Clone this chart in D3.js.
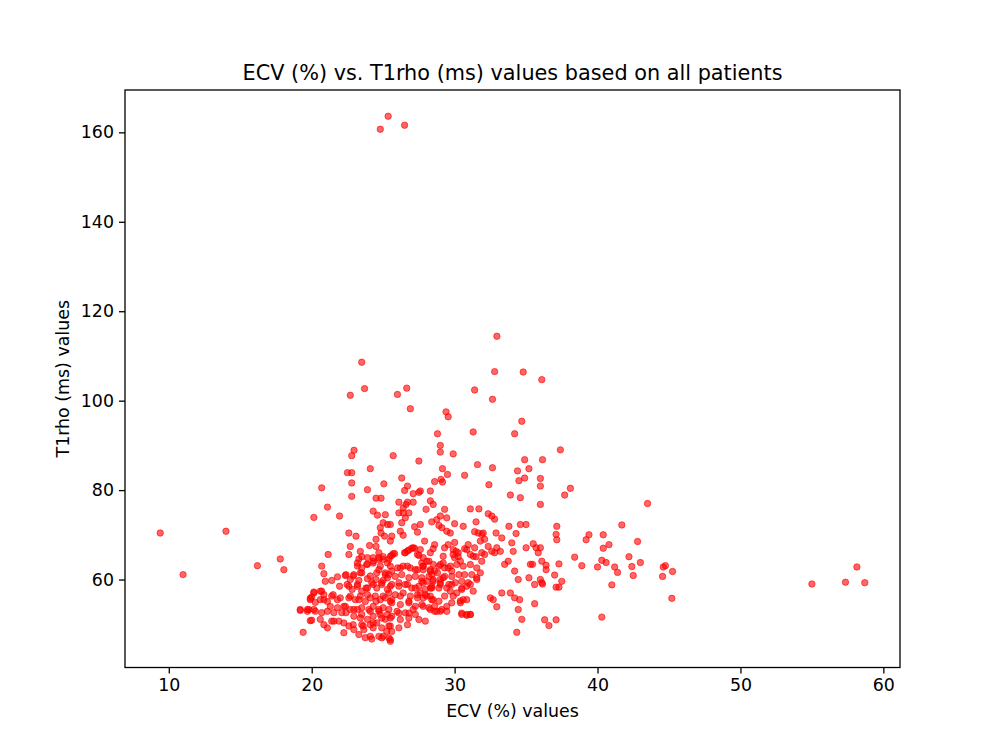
<!DOCTYPE html>
<html>

<head>
    <meta charset="utf-8">
    <title>ECV vs T1rho</title>
    <style>
    body {
        margin: 0;
        background: #fff;
    }

    svg text {
        font-family: "DejaVu Sans", sans-serif;
        fill: #000;
    }

    .tick line {
        stroke: #000;
        stroke-width: 1.3px;
    }
    </style>
</head>

<body>
    <script src='https://d3js.org/d3.v7.min.js'></script>
    <script>
    // chart texts and ticks
    var chartTitle = "ECV (%) vs. T1rho (ms) values based on all patients";
    var xLabel = "ECV (%) values";
    var yLabel = "T1rho (ms) values";
    var xTicks = [10, 20, 30, 40, 50, 60];
    var yTicks = [60, 80, 100, 120, 140, 160];

    // [ECV %, T1rho ms] per patient
    var points = [
        // far left
        [9.4, 70.4], [11.0, 61.1], [14.0, 70.8], [16.2, 63.1], [17.8, 64.6], [18.05, 62.2],
        [19.2, 53.1], [19.7, 53.3], [19.4, 48.2], [19.9, 55.8], [19.9, 50.8],
        // right side
        [37.4, 89.0], [36.15, 86.8], [38.1, 80.4], [37.7, 78.9], [36.0, 82.6], [36.0, 80.9], [36.0, 76.8],
        [43.5, 77.0], [41.7, 72.2], [37.15, 71.9], [37.1, 70.1], [37.15, 68.9], [39.4, 70.0], [39.2, 68.9],
        [40.4, 70.0], [42.8, 68.5], [40.4, 67.0], [40.8, 67.8], [36.0, 67.1], [38.4, 65.0], [42.2, 65.1],
        [40.3, 64.3], [40.6, 63.8], [43.0, 63.8], [36.1, 64.1], [36.4, 63.2], [36.4, 62.2], [37.3, 63.5],
        [38.9, 63.1], [40.0, 62.8], [41.2, 62.8], [41.4, 61.6], [42.4, 62.9], [42.5, 60.9], [44.75, 63.1],
        [44.6, 62.8], [45.25, 61.8], [44.55, 60.7], [45.2, 55.8], [37.0, 61.0], [37.5, 59.6], [36.15, 59.0],
        [36.0, 60.0], [37.1, 58.3], [37.3, 58.3], [41.0, 58.8], [40.3, 51.6], [36.3, 51.0], [37.1, 51.0],
        [36.6, 49.7], [55.0, 59.0], [57.35, 59.4], [58.7, 59.3], [58.15, 62.8],
        // top outliers
        [24.8, 160.7], [25.35, 163.6], [26.5, 161.6],
        // upper cloud
        [23.5, 108.6], [23.7, 102.7], [22.7, 101.2], [26.0, 101.4], [26.65, 102.8], [26.9, 98.2],
        [22.96, 88.9], [22.8, 87.7], [25.7, 87.7], [27.5, 86.5], [24.1, 84.8], [22.5, 83.9], [22.8, 83.9],
        [20.7, 80.5], [22.8, 81.6], [26.3, 82.7], [26.7, 80.9], [26.5, 79.9], [25.05, 81.4], [23.9, 80.1],
        [27.1, 79.2], [27.5, 79.5], [22.8, 78.6], [24.5, 78.2], [24.85, 78.2], [28.3, 79.8],
        [32.96, 114.4], [32.8, 106.5], [34.8, 106.4], [36.1, 104.7], [31.4, 102.4], [32.65, 100.3],
        [29.4, 97.5], [29.55, 96.4], [34.7, 95.4], [28.8, 92.6], [31.3, 93.0], [34.2, 92.6], [29.0, 90.0],
        [29.0, 88.5], [29.9, 88.1], [31.6, 85.7], [32.65, 85.0], [34.9, 86.8], [29.15, 84.8], [29.5, 83.5],
        [29.05, 82.4], [28.6, 81.9], [29.15, 81.8], [30.7, 83.3], [34.4, 84.3], [35.2, 84.8], [34.9, 82.7],
        [34.5, 82.1], [32.4, 81.2], [27.6, 79.8], [33.9, 78.9], [34.6, 78.3],
        // middle band 64-77
        [21.1, 76.2], [20.15, 73.9], [21.95, 74.2], [24.3, 75.3], [24.6, 74.4], [25.15, 74.5], [22.6, 70.4],
        [23.1, 69.7], [22.7, 67.4], [21.15, 65.6], [22.6, 65.6], [24.5, 69.0], [24.05, 67.6], [24.5, 67.4],
        [24.8, 71.6], [25.0, 72.7], [25.3, 72.3], [24.85, 70.4], [25.1, 69.7], [23.3, 64.6], [23.5, 65.1],
        [23.9, 64.9], [24.3, 64.9], [24.7, 64.5], [25.0, 65.1], [25.4, 64.5], [23.4, 66.3], [24.7, 66.0],
        [26.1, 77.3], [26.7, 77.3], [27.1, 77.3], [26.4, 76.0], [26.6, 76.8], [26.1, 74.9], [26.4, 74.9],
        [26.8, 74.9], [26.55, 73.8], [28.3, 77.6], [28.5, 76.8], [28.0, 75.7], [29.3, 75.7], [29.0, 74.2],
        [31.1, 75.8], [31.7, 75.8], [29.45, 73.8], [25.5, 72.3], [26.3, 72.7], [26.2, 70.8], [26.4, 69.9],
        [27.2, 71.8], [27.6, 72.3], [27.4, 70.6], [28.4, 72.9], [28.75, 73.4], [28.9, 72.1], [29.1, 71.6],
        [29.45, 70.8], [29.7, 70.4], [30.0, 72.5], [30.6, 71.9], [31.5, 72.9], [31.4, 70.7], [31.65, 70.4],
        [32.0, 70.4], [27.9, 68.6], [28.6, 67.8], [28.5, 66.9], [28.3, 66.0], [29.3, 67.1], [29.2, 65.2],
        [30.0, 68.3], [30.1, 66.3], [29.9, 65.6], [30.25, 65.1], [30.7, 66.9], [30.95, 67.8], [31.4, 67.1],
        [31.5, 65.1], [31.9, 64.1], [32.1, 65.6], [27.0, 67.0], [26.7, 66.4], [26.5, 66.0], [27.2, 67.0],
        [25.8, 65.8], [25.6, 65.4], [27.5, 65.4], [27.8, 64.9], [28.05, 64.1], [25.5, 68.6], [25.6, 69.7],
        [32.35, 74.7], [32.8, 73.5], [32.6, 74.2], [31.9, 70.1], [31.8, 68.6], [32.1, 69.0], [32.9, 70.4],
        [33.3, 69.3], [33.8, 71.9], [34.6, 72.3], [35.0, 72.3], [34.3, 70.3], [34.0, 68.2], [34.1, 66.3],
        [35.0, 67.1], [35.5, 68.0], [35.7, 67.1], [35.85, 66.0], [27.6, 66.7], [29.55, 67.8], [29.9, 66.7],
        [30.25, 66.0], [30.0, 64.9], [30.4, 64.1], [30.85, 66.7], [31.1, 65.6], [31.3, 65.2], [31.9, 66.0],
        [32.35, 67.4], [32.6, 66.3], [32.8, 66.0], [33.2, 66.3], [32.95, 67.1], [33.5, 63.4], [33.75, 64.1],
        // 28-36 lower
        [34.2, 61.9], [34.45, 60.0], [35.3, 63.4], [35.45, 63.4], [35.2, 60.4], [35.6, 58.9], [36.1, 59.3],
        [31.55, 60.4], [31.1, 58.9], [31.3, 57.4], [30.85, 58.5], [30.5, 58.1], [30.6, 55.5], [32.5, 55.9],
        [32.7, 55.5], [32.95, 53.9], [33.3, 57.0], [33.9, 57.0], [34.2, 55.9], [34.55, 55.5], [34.45, 53.3],
        [34.7, 51.1], [34.35, 48.2], [35.6, 54.6], [30.5, 52.2], [30.85, 52.0], [31.1, 52.2], [30.4, 55.2],
        [29.9, 56.3], [29.1, 53.3], [28.75, 52.9], [29.45, 54.0], [27.6, 57.0], [28.05, 56.3], [28.4, 55.5],
        [27.8, 54.0], [28.3, 53.3], [27.7, 63.7], [28.2, 64.1], [28.5, 63.4], [28.9, 63.0], [29.2, 63.7],
        [29.55, 62.6], [29.8, 61.9], [29.3, 60.7], [29.0, 60.0], [28.5, 59.6], [28.05, 59.6], [27.7, 59.6],
        [28.3, 58.1], [28.9, 58.1], [29.45, 58.1], [29.8, 58.9], [27.8, 62.2], [28.4, 61.1],
        // 19-26 lower core
        [20.7, 63.0], [20.85, 61.3], [20.95, 59.6], [21.4, 59.8], [21.8, 60.6], [22.35, 60.9], [22.95, 61.1],
        [23.5, 61.5], [23.2, 63.0], [23.85, 63.4], [21.95, 58.5], [20.15, 57.2], [20.7, 57.4], [20.85, 56.6],
        [20.0, 56.1], [20.25, 54.9], [20.6, 55.5], [21.1, 55.1], [21.5, 56.6], [21.8, 55.5], [19.8, 53.3],
        [20.25, 52.9], [20.7, 52.6], [20.0, 50.9], [20.6, 51.1], [20.85, 49.9], [21.3, 54.0], [21.55, 52.6],
        [21.4, 50.7], [21.1, 49.2], [21.9, 50.7], [22.1, 52.6], [22.25, 54.0], [22.25, 48.1], [22.6, 49.6],
        [22.95, 48.8], [23.3, 47.7], [23.65, 48.8], [23.75, 47.0], [24.2, 46.7], [24.7, 47.3], [25.0, 47.3],
        [24.3, 49.2], [24.55, 50.3], [24.9, 51.4], [25.25, 48.4], [22.48, 58.9], [22.83, 57.8], [23.2, 58.5],
        [23.5, 57.4], [23.9, 58.1], [24.2, 59.3], [24.55, 58.1], [24.9, 58.9], [25.3, 57.8], [22.6, 55.9],
        [23.05, 55.5], [23.4, 56.3], [23.75, 55.1], [24.1, 55.9], [24.45, 56.3], [24.8, 55.5], [25.15, 55.9],
        [25.5, 55.1], [22.35, 54.0], [22.7, 53.3], [23.2, 53.3], [23.5, 53.7], [24.0, 53.3], [24.3, 54.0],
        [24.7, 52.9], [25.0, 53.7], [25.4, 53.3], [22.95, 51.8], [23.4, 51.4], [23.9, 51.1], [24.3, 51.8],
        [24.8, 52.2], [25.15, 51.1], [25.5, 51.4], [23.5, 49.9], [24.1, 49.9], [24.3, 63.7], [24.8, 63.0],
        [25.3, 63.7], [24.55, 61.5], [25.15, 61.1], [23.9, 60.2], [24.5, 60.0], [25.0, 59.8], [23.3, 59.8],
        [22.7, 60.0], [25.3, 60.4],
        // 25-32 lower core
        [25.5, 63.0], [26.0, 62.6], [26.4, 63.0], [26.9, 62.6], [27.4, 62.2], [27.8, 63.0], [28.3, 62.2],
        [28.6, 61.9], [25.4, 61.1], [25.85, 60.7], [26.3, 61.1], [26.8, 60.4], [27.25, 60.7], [27.7, 60.4],
        [28.2, 60.7], [28.5, 60.0], [25.6, 58.9], [26.1, 58.5], [26.55, 58.9], [27.0, 58.1], [27.5, 58.5],
        [27.95, 57.8], [28.4, 58.1], [25.4, 57.0], [25.85, 56.6], [26.4, 57.0], [26.9, 56.3], [27.4, 56.6],
        [27.8, 55.9], [28.3, 56.3], [25.6, 54.8], [26.2, 54.4], [26.8, 54.8], [27.25, 54.0], [27.7, 54.4],
        [28.2, 53.7], [28.6, 54.0], [29.0, 63.35], [29.3, 62.6], [29.7, 63.0], [30.15, 63.35], [30.6, 63.0],
        [31.1, 63.35], [31.55, 62.6], [31.8, 61.5], [31.2, 61.1], [30.7, 61.1], [30.3, 61.1], [29.8, 60.7],
        [29.2, 60.4], [29.0, 59.3], [29.6, 58.9], [30.05, 59.3], [30.5, 59.6], [30.95, 59.3], [31.55, 60.0],
        [29.7, 57.4], [30.15, 57.0], [30.5, 57.8], [30.85, 55.5], [30.4, 54.8], [29.8, 54.8], [29.3, 56.3],
        [28.9, 55.15], [28.6, 52.9], [29.0, 52.9], [29.45, 52.9], [30.5, 52.5], [30.85, 52.2], [31.1, 52.2],
        [26.1, 52.5], [25.6, 51.8], [26.2, 51.05], [26.8, 51.4], [27.5, 51.05], [27.95, 50.7], [25.4, 49.6],
        [25.6, 48.4], [26.1, 49.2], [26.7, 49.9], [25.4, 46.95], [25.5, 46.2], [26.8, 52.5], [27.25, 52.2],
        // more of the dense core
        [26.55, 66.0], [26.8, 66.6], [27.1, 67.1], [27.4, 65.6], [24.7, 64.9], [25.0, 64.5], [25.5, 65.2],
        [25.7, 65.8], [23.2, 63.7], [23.5, 62.6], [23.9, 63.4], [24.3, 64.1], [22.4, 61.1], [22.9, 60.8],
        [23.4, 61.5], [24.1, 60.8], [24.7, 62.2], [25.15, 61.5], [25.6, 61.9], [26.2, 62.6], [26.7, 63.0],
        [27.25, 62.2], [27.8, 63.0], [28.3, 61.9], [28.8, 61.5], [20.6, 57.4], [20.15, 57.0], [19.9, 55.5],
        [20.85, 55.5], [21.4, 56.3], [22.0, 55.9], [22.6, 58.5], [23.2, 58.9], [23.8, 58.1], [24.3, 58.9],
        [24.9, 59.3], [25.5, 58.5], [26.1, 59.3], [26.7, 58.9], [27.25, 58.1], [27.8, 59.3], [28.4, 58.5],
        [29.0, 58.9], [22.7, 56.3], [23.3, 55.5], [23.9, 56.6], [24.5, 55.15], [25.0, 56.3], [25.6, 55.5],
        [26.2, 56.3], [26.8, 55.15], [27.4, 55.9], [27.95, 56.6], [28.5, 55.5], [20.15, 53.3], [19.2, 53.3],
        [19.7, 52.9], [21.1, 52.9], [21.8, 53.7], [22.4, 52.6], [22.95, 53.3], [23.5, 52.2], [24.1, 52.9],
        [24.7, 53.3], [25.3, 52.2], [25.97, 52.9], [26.55, 52.55], [27.1, 53.3], [21.55, 50.7], [22.25, 50.3],
        [22.9, 49.9], [23.6, 49.6], [24.3, 50.3], [24.9, 49.2], [25.5, 49.6], [24.1, 47.3], [24.9, 46.95],
        [25.5, 46.6]
    ];

    var width = 1000;
    var height = 750;
    // axes box like matplotlib's default subplot
    var axLeft = 125, axRight = 900, axTop = 90, axBottom = 667.5;

    var xExtent = d3.extent(points, function(d) { return d[0]; });
    var yExtent = d3.extent(points, function(d) { return d[1]; });
    var xPad = (xExtent[1] - xExtent[0]) * 0.05;
    var yPad = (yExtent[1] - yExtent[0]) * 0.05;

    var x = d3.scaleLinear()
        .domain([xExtent[0] - xPad, xExtent[1] + xPad])
        .range([axLeft, axRight]);
    var y = d3.scaleLinear()
        .domain([yExtent[0] - yPad, yExtent[1] + yPad])
        .range([axBottom, axTop]);

    var svg = d3.select("body")
        .append("svg")
        .attr("width", width)
        .attr("height", height);

    svg.append("g")
        .selectAll("circle")
        .data(points)
        .enter()
        .append("circle")
        .attr("cx", function(d) { return x(d[0]); })
        .attr("cy", function(d) { return y(d[1]); })
        .attr("r", 3.2)
        .attr("fill", "red")
        .attr("fill-opacity", 0.6)
        .attr("stroke", "red")
        .attr("stroke-opacity", 0.6)
        .attr("stroke-width", 1);

    // frame
    svg.append("rect")
        .attr("x", axLeft)
        .attr("y", axTop)
        .attr("width", axRight - axLeft)
        .attr("height", axBottom - axTop)
        .attr("fill", "none")
        .attr("stroke", "#000")
        .attr("stroke-width", 1.3);

    var xAxis = svg.append("g")
        .attr("transform", "translate(0," + axBottom + ")")
        .call(d3.axisBottom(x).tickValues(xTicks).tickSize(6).tickPadding(5)
            .tickFormat(d3.format("d")));
    var yAxis = svg.append("g")
        .attr("transform", "translate(" + axLeft + ",0)")
        .call(d3.axisLeft(y).tickValues(yTicks).tickSize(6).tickPadding(5)
            .tickFormat(d3.format("d")));

    [xAxis, yAxis].forEach(function(a) {
        a.select(".domain").remove();
        a.selectAll("text")
            .style("font-family", "'DejaVu Sans', sans-serif")
            .style("font-size", "17.4px")
            .attr("fill", "#000");
    });

    svg.append("text")
        .attr("x", (axLeft + axRight) / 2)
        .attr("y", 79.6)
        .attr("text-anchor", "middle")
        .style("font-size", "20.8px")
        .text(chartTitle);

    svg.append("text")
        .attr("x", (axLeft + axRight) / 2)
        .attr("y", 717)
        .attr("text-anchor", "middle")
        .style("font-size", "17.4px")
        .text(xLabel);

    svg.append("text")
        .attr("transform", "translate(68.5," + (axTop + axBottom) / 2 + ") rotate(-90)")
        .attr("text-anchor", "middle")
        .style("font-size", "17.4px")
        .text(yLabel);
    </script>
</body>

</html>
